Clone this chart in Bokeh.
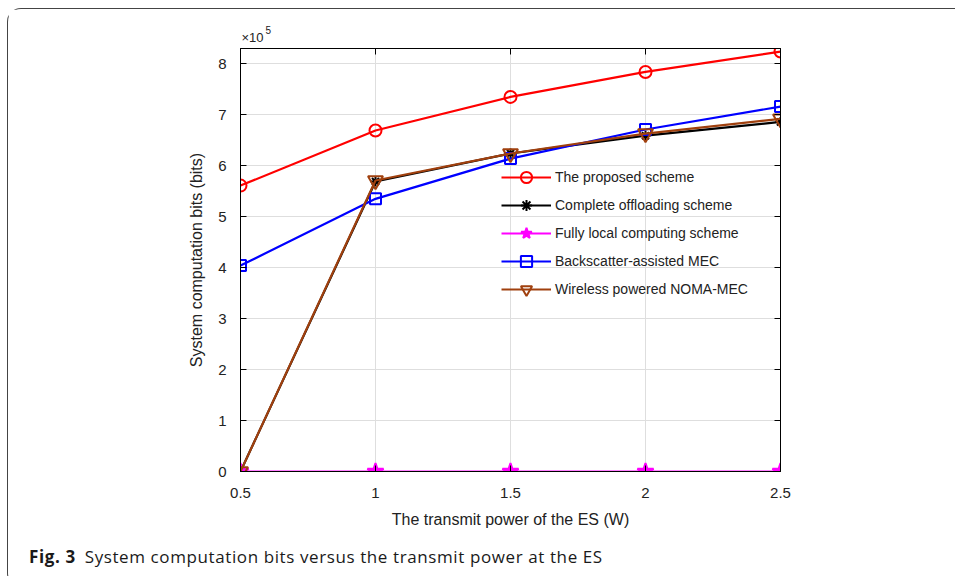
from bokeh.plotting import figure
from bokeh.layouts import column
from bokeh.models import LinearAxis, FixedTicker, Legend, LegendItem, Title, Div
from bokeh.embed import file_html
from bokeh.resources import INLINE

power = [0.5, 1.0, 1.5, 2.0, 2.5]
proposed = [5.61e5, 6.69e5, 7.35e5, 7.84e5, 8.24e5]
complete_off = [0.0, 5.69e5, 6.24e5, 6.59e5, 6.86e5]
fully_local = [0.0, 0.0, 0.0, 0.0, 0.0]
backscatter = [4.04e5, 5.35e5, 6.14e5, 6.71e5, 7.16e5]
noma = [0.0, 5.71e5, 6.24e5, 6.63e5, 6.92e5]
x_ticks = [0.5, 1, 1.5, 2, 2.5]
x_tick_labels = ["0.5", "1", "1.5", "2", "2.5"]
y_ticks = [0, 1, 2, 3, 4, 5, 6, 7, 8]
scale = 1e5

FONT = "Liberation Sans"

p = figure(width=946, height=530, x_range=(0.5, 2.5), y_range=(0, 8.3),
           output_backend="svg", toolbar_location=None,
           min_border_left=232, min_border_right=174, min_border_top=39, min_border_bottom=68)
p.background_fill_color = "white"
p.border_fill_color = "white"
p.outline_line_color = "black"
p.outline_line_width = 1

def style_axis(ax, show_labels=True):
    ax.axis_line_color = "black"
    ax.major_tick_in = 6
    ax.major_tick_out = 0
    ax.minor_tick_line_color = None
    ax.major_tick_line_color = "black"
    ax.major_label_text_font = FONT
    ax.major_label_text_font_size = "15px"
    ax.major_label_text_color = "#222222"
    if not show_labels:
        ax.major_label_text_alpha = 0
        ax.major_label_text_font_size = "0px"
        ax.major_label_standoff = 0

p.xaxis.ticker = FixedTicker(ticks=x_ticks)
p.xaxis.major_label_overrides = {t: l for t, l in zip(x_ticks, x_tick_labels)}
p.yaxis.ticker = FixedTicker(ticks=y_ticks)
for ax in p.xaxis + p.yaxis:
    style_axis(ax)
p.xaxis.major_label_standoff = 16
p.yaxis.major_label_standoff = 14
p.xaxis.axis_label = "The transmit power of the ES (W)"
p.yaxis.axis_label = "System computation bits (bits)"
for ax in p.xaxis + p.yaxis:
    ax.axis_label_text_font = FONT
    ax.axis_label_text_font_size = "16px"
    ax.axis_label_text_font_style = "normal"
    ax.axis_label_text_color = "#222222"
    ax.axis_label_standoff = 10

top_ax = LinearAxis(ticker=FixedTicker(ticks=x_ticks))
right_ax = LinearAxis(ticker=FixedTicker(ticks=y_ticks))
style_axis(top_ax, False)
style_axis(right_ax, False)
p.add_layout(top_ax, "above")
p.add_layout(right_ax, "right")

p.add_layout(Title(text="\u00d710", align="left", offset=1, standoff=8,
                   text_font=FONT, text_font_size="13px", text_font_style="normal",
                   text_color="#222222"), "above")
p.add_layout(Title(text="5", align="left", offset=25, standoff=-20,
                   text_font=FONT, text_font_size="10px", text_font_style="normal",
                   text_color="#222222"), "above")

p.xgrid.ticker = FixedTicker(ticks=x_ticks)
p.ygrid.ticker = FixedTicker(ticks=y_ticks)
p.xgrid.grid_line_color = "#dedede"
p.ygrid.grid_line_color = "#dedede"

def scaled(vals):
    return [v / scale for v in vals]

items = []
series = [
    ("The proposed scheme", proposed, "#ff0000", "circle", 12, False),
    ("Complete offloading scheme", complete_off, "#000000", "asterisk", 10, True),
    ("Fully local computing scheme", fully_local, "#ff00ff", "star", 17, True),
    ("Backscatter-assisted MEC", backscatter, "#0000ff", "square", 11, False),
    ("Wireless powered NOMA-MEC", noma, "#a0400e", "inverted_triangle", 15, False),
]
for name, vals, color, marker, size, filled in series:
    ys = scaled(vals)
    ln = p.line(power, ys, line_color=color, line_width=2.2)
    sc = p.scatter(power, ys, marker=marker, size=size, line_color=color, line_width=2,
                   fill_color=color if filled else None)
    items.append(LegendItem(label=name, renderers=[ln, sc]))

legend = Legend(items=items, location=(261, 168))
legend.background_fill_alpha = 0
legend.border_line_color = None
legend.padding = 0
legend.margin = 0
legend.spacing = 0
legend.glyph_width = 50
legend.glyph_height = 28
legend.label_height = 20
legend.label_standoff = 4
legend.label_text_font = FONT
legend.label_text_font_size = "14px"
legend.label_text_color = "#222222"
p.add_layout(legend)

caption = Div(
    text='<span style="font-weight:700;margin-right:9px">Fig. 3</span>System computation bits versus the transmit power at the ES',
    width=946, height=37,
    styles={"font-family": "'Open Sans'", "font-size": "17px", "color": "#1a1a1a",
            "letter-spacing": "0.6px", "white-space": "nowrap",
            "padding-left": "16px", "padding-top": "2px", "line-height": "22px",
            "box-sizing": "border-box"})

layout = column(p, caption, spacing=0,
                styles={"margin-left": "7px", "margin-top": "8px",
                        "border-top": "1px solid #444444", "border-left": "1px solid #444444",
                        "border-bottom": "1px solid #444444", "border-top-left-radius": "14px",
                        "border-bottom-left-radius": "14px", "background": "white"})

open("out.html", "w").write(file_html(layout, INLINE))
